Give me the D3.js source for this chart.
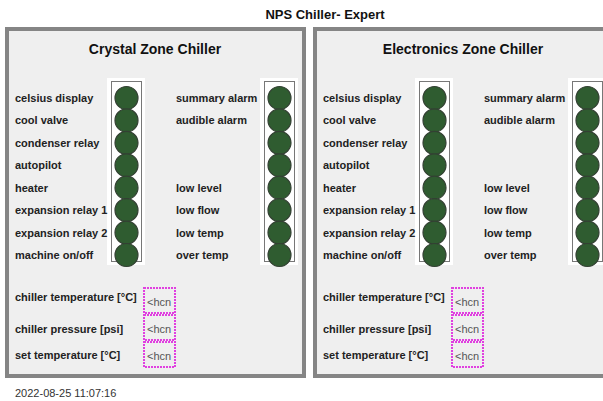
<!DOCTYPE html>
<html><head><meta charset="utf-8">
<script src="https://cdn.jsdelivr.net/npm/d3@7/dist/d3.min.js"></script>
<style>
html,body{margin:0;padding:0;background:#fff;overflow:hidden;}
text{font-family:"Liberation Sans",Arial,sans-serif;}
</style></head>
<body><svg id="c" width="603" height="401"></svg>
<script>
const pageTitle = "NPS Chiller- Expert";
const chillers = ["Crystal Zone Chiller", "Electronics Zone Chiller"];
const leftLabels = ["celsius display","cool valve","condenser relay","autopilot","heater","expansion relay 1","expansion relay 2","machine on/off"];
const rightLabels = ["summary alarm","audible alarm","","","low level","low flow","low temp","over temp"];
const leftStates = [0,0,0,0,0,0,0,0];
const rightStates = [0,0,0,0,0,0,0,0];
const readoutLabels = ["chiller temperature [°C]","chiller pressure [psi]","set temperature [°C]"];
const readoutValues = ["<hcn","<hcn","<hcn"];
const timestamp = "2022-08-25 11:07:16";

const svg = d3.select("#c");
svg.append("text").attr("x",325).attr("y",19).attr("text-anchor","middle")
  .attr("font-weight","bold").attr("font-size",13).attr("fill","#111").text(pageTitle);

const panelX = d3.scaleOrdinal().domain(chillers).range([5,313]);
const rowY = d3.scaleLinear().domain([0,7]).range([98,255]);
const readY = d3.scaleOrdinal().domain([0,1,2]).range([297,329,355]);
const boxY = d3.scaleOrdinal().domain([0,1,2]).range([[288,313],[315,340],[342,367]]);
const ledColor = d3.scaleOrdinal().domain([0,1]).range(["#2f5c30","#3fdc3f"]);

chillers.forEach((name,pi)=>{
  const g = svg.append("g").attr("transform",`translate(${panelX(name)},0)`);
  g.append("rect").attr("x",2).attr("y",29).attr("width",297).attr("height",347)
    .attr("fill","#efefef").attr("stroke","#858585").attr("stroke-width",4);
  g.append("text").attr("x",150).attr("y",54).attr("text-anchor","middle")
    .attr("font-weight","bold").attr("font-size",14).attr("fill","#111").text(name);

  const cols = [
    {labels:leftLabels, states:leftStates, lx:10, bx:102},
    {labels:rightLabels, states:rightStates, lx:171, bx:255}
  ];
  cols.forEach(c=>{
    g.append("rect").attr("x",c.bx).attr("y",78).attr("width",38).attr("height",187).attr("fill","#fff");
    g.append("rect").attr("x",c.bx+4.5).attr("y",81.5).attr("width",30).attr("height",180)
      .attr("fill","#fff").attr("stroke","#777").attr("stroke-width",1);
    g.selectAll(null).data(c.labels).enter().append("text")
      .attr("x",c.lx).attr("y",(d,i)=>rowY(i)+4).attr("font-weight","bold").attr("font-size",11)
      .attr("fill","#222").text(d=>d);
    g.selectAll(null).data(c.states).enter().append("circle")
      .attr("cx",c.bx+19.5).attr("cy",(d,i)=>rowY(i)).attr("r",11.5)
      .attr("fill",d=>ledColor(d)).attr("stroke","#334033").attr("stroke-width",1.2);
  });

  g.selectAll(null).data(readoutLabels).enter().append("text")
    .attr("x",10).attr("y",(d,i)=>readY(i)+4).attr("font-weight","bold").attr("font-size",11)
    .attr("fill","#222").text(d=>d);
  readoutValues.forEach((v,i)=>{
    const [y0,y1] = boxY(i);
    g.append("rect").attr("x",139).attr("y",y0).attr("width",31).attr("height",y1-y0)
      .attr("fill","none").attr("stroke","#e040e0").attr("stroke-width",2).attr("stroke-dasharray","2,1");
    g.append("text").attr("x",142).attr("y",(y0+y1)/2+5).attr("font-size",11).attr("fill","#555").text(v);
  });
});

svg.append("text").attr("x",15).attr("y",397).attr("font-size",11).attr("fill","#333").text(timestamp);
</script></body></html>
